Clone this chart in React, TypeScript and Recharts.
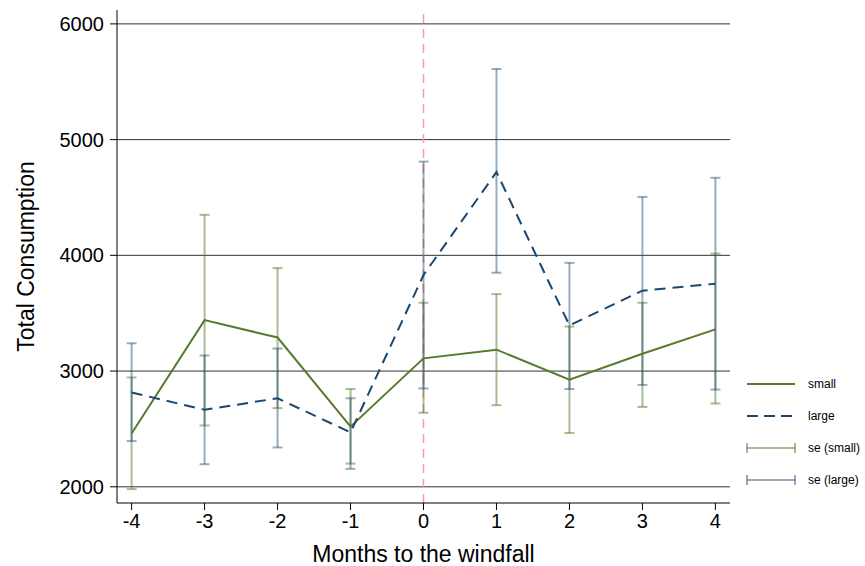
import {
  ComposedChart,
  CartesianGrid,
  ErrorBar,
  Label,
  Legend,
  Line,
  ReferenceLine,
  Scatter,
  XAxis,
  YAxis,
} from "recharts";

const months = [-4, -3, -2, -1, 0, 1, 2, 3, 4];
const small = [2460, 3440, 3290, 2520, 3110, 3185, 2925, 3150, 3360];
const large = [2815, 2665, 2765, 2470, 3830, 4720, 3395, 3695, 3755];
const seSmallLow = [1980, 2530, 2680, 2200, 2640, 2705, 2465, 2690, 2720];
const seSmallHigh = [2945, 4350, 3890, 2845, 3590, 3665, 3385, 3590, 4015];
const seLargeLow = [2395, 2195, 2340, 2155, 2850, 3850, 2845, 2880, 2840];
const seLargeHigh = [3240, 3135, 3195, 2765, 4810, 5610, 3935, 4505, 4670];
const yTicks = [2000, 3000, 4000, 5000, 6000];

const GREEN = "#567a2e";
const NAVY = "#1a476f";
const SE_GREEN = "rgba(86,122,46,0.5)";
const SE_NAVY = "rgba(26,71,111,0.45)";
const FONT = "'Liberation Sans', Arial, sans-serif";

const lineData = months.map((m, i) => ({ x: m, small: small[i], large: large[i] }));
const seData = (lo: number[], hi: number[]) =>
  months.map((m, i) => {
    const mid = (lo[i] + hi[i]) / 2;
    return { x: m, mid, err: [mid - lo[i], hi[i] - mid] };
  });
const seSmall = seData(seSmallLow, seSmallHigh);
const seLarge = seData(seLargeLow, seLargeHigh);

const legendItems = [
  { name: "small", kind: "solid", color: GREEN },
  { name: "large", kind: "dash", color: NAVY },
  { name: "se (small)", kind: "se", color: SE_GREEN },
  { name: "se (large)", kind: "se", color: SE_NAVY },
];

function LegendBox() {
  return (
    <div style={{ fontFamily: FONT, fontSize: 12 }}>
      {legendItems.map((it) => (
        <div key={it.name} style={{ display: "flex", alignItems: "center", height: 32 }}>
          <svg width={54} height={12} style={{ marginRight: 10 }}>
            {it.kind === "se" ? (
              <g stroke={it.color} strokeWidth={2}>
                <line x1={3} y1={6} x2={51} y2={6} />
                <line x1={3} y1={1} x2={3} y2={11} />
                <line x1={51} y1={1} x2={51} y2={11} />
              </g>
            ) : (
              <line x1={3} y1={6} x2={51} y2={6} stroke={it.color} strokeWidth={2}
                strokeDasharray={it.kind === "dash" ? "11 6" : undefined} />
            )}
          </svg>
          <span>{it.name}</span>
        </div>
      ))}
    </div>
  );
}

export default function App() {
  return (
    <div style={{ position: "absolute", left: 0, top: 0, background: "#fff" }}>
      <ComposedChart width={865} height={566} margin={{ top: 10, right: 135, bottom: 0, left: 0 }}>
        <CartesianGrid vertical={false} horizontalValues={yTicks} stroke="#333" strokeWidth={1} />
        <XAxis
          type="number"
          dataKey="x"
          domain={[-4.2, 4.2]}
          ticks={months}
          allowDataOverflow
          height={63}
          tickSize={7}
          tickMargin={4}
          stroke="#000"
          tick={{ fill: "#000", fontSize: 20, fontFamily: FONT }}
        >
          <Label value="Months to the windfall" position="insideBottom" offset={4}
            style={{ fill: "#000", fontSize: 23, fontFamily: FONT }} />
        </XAxis>
        <YAxis
          type="number"
          domain={[1860, 6120]}
          ticks={yTicks}
          allowDataOverflow
          width={117}
          tickSize={7}
          tickMargin={6}
          stroke="#000"
          tick={{ fill: "#000", fontSize: 20, fontFamily: FONT }}
        >
          <Label value="Total Consumption" angle={-90} position="insideLeft" offset={26}
            style={{ fill: "#000", fontSize: 23, fontFamily: FONT, textAnchor: "middle" }} />
        </YAxis>
        <ReferenceLine x={0} stroke="#ff9c9c" strokeWidth={1.5} strokeDasharray="9 6" />
        <Scatter data={seSmall} dataKey="mid" shape={() => null} isAnimationActive={false} legendType="none">
          <ErrorBar dataKey="err" direction="y" width={5} stroke={SE_GREEN} strokeWidth={2} />
        </Scatter>
        <Scatter data={seLarge} dataKey="mid" shape={() => null} isAnimationActive={false} legendType="none">
          <ErrorBar dataKey="err" direction="y" width={5} stroke={SE_NAVY} strokeWidth={2} />
        </Scatter>
        <Line data={lineData} dataKey="small" stroke={GREEN} strokeWidth={2} dot={false} isAnimationActive={false} />
        <Line data={lineData} dataKey="large" stroke={NAVY} strokeWidth={2} strokeDasharray="11 7" dot={false} isAnimationActive={false} />
        <Legend
          layout="horizontal"
          verticalAlign="middle"
          align="center"
          content={() => <LegendBox />}
          wrapperStyle={{ left: 744, top: 368, width: 121, height: 130 }}
        />
      </ComposedChart>
    </div>
  );
}
